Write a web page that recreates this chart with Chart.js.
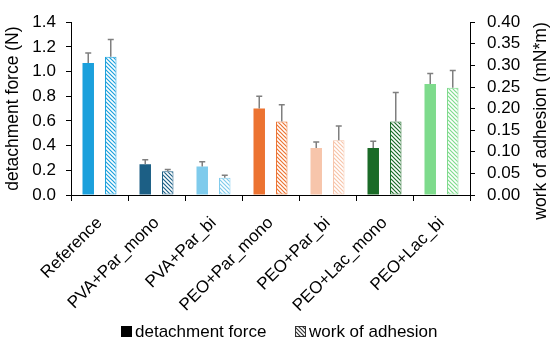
<!DOCTYPE html>
<html>
<head>
<meta charset="utf-8">
<script src="https://cdn.jsdelivr.net/npm/chart.js@4/dist/chart.umd.min.js"></script>
<style>
  body { margin: 0; background: #fff; }
  #wrap { width: 550px; height: 347px; }
</style>
</head>
<body>
<div id="wrap"><canvas id="c" width="550" height="347"></canvas></div>
<script>
const categories = ['Reference', 'PVA+Par_mono', 'PVA+Par_bi', 'PEO+Par_mono', 'PEO+Par_bi', 'PEO+Lac_mono', 'PEO+Lac_bi'];
const barColors = ['#1ba0dc', '#1c5f85', '#7fcbec', '#ec7331', '#f7c5ab', '#1a6b27', '#7edb8c'];

const forceValues = [1.07, 0.25, 0.23, 0.70, 0.38, 0.38, 0.90];
const forceErrors = [0.08, 0.035, 0.04, 0.10, 0.05, 0.055, 0.085];
const workValues = [0.32, 0.055, 0.04, 0.17, 0.127, 0.17, 0.248];
const workErrors = [0.04, 0.004, 0.006, 0.039, 0.033, 0.067, 0.04];

const forceTicks = [0, 0.2, 0.4, 0.6, 0.8, 1.0, 1.2, 1.4];
const workTicks = [0, 0.05, 0.10, 0.15, 0.20, 0.25, 0.30, 0.35, 0.40];

const FONT = '"Liberation Sans", Arial, sans-serif';
const ctx = document.getElementById('c').getContext('2d');

// diagonal hatch fill (top-left to bottom-right)
function hatch(color) {
	const t = document.createElement('canvas');
	t.width = 4; t.height = 4;
	const g = t.getContext('2d');
	g.fillStyle = '#fff';
	g.fillRect(0, 0, 4, 4);
	g.strokeStyle = color;
	g.lineWidth = 1.2;
	g.beginPath();
	g.moveTo(-1, -1); g.lineTo(5, 5);
	g.moveTo(-1, 3); g.lineTo(1, 5);
	g.moveTo(3, -1); g.lineTo(5, 1);
	g.stroke();
	return ctx.createPattern(t, 'repeat');
}

const errorBars = {
	id: 'errorBars',
	afterDatasetsDraw(chart) {
		const c = chart.ctx;
		c.save();
		c.strokeStyle = '#7f7f7f';
		c.lineWidth = 1.5;
		chart.data.datasets.forEach((ds, i) => {
			const meta = chart.getDatasetMeta(i);
			const scale = chart.scales[ds.yAxisID];
			meta.data.forEach((bar, j) => {
				const yTop = scale.getPixelForValue(ds.data[j] + ds.errors[j]);
				c.beginPath();
				c.moveTo(bar.x, bar.y);
				c.lineTo(bar.x, yTop);
				c.moveTo(bar.x - 3, yTop);
				c.lineTo(bar.x + 3, yTop);
				c.stroke();
			});
		});
		c.restore();
	}
};

const extras = {
	id: 'extras',
	afterDraw(chart) {
		const c = chart.ctx;
		c.save();
		// right axis title, reading bottom to top
		c.fillStyle = '#000';
		c.font = '17.5px ' + FONT;
		c.textAlign = 'center';
		c.textBaseline = 'middle';
		c.translate(541, 121);
		c.rotate(-Math.PI / 2);
		c.fillText('work of adhesion (mN*m)', 0, 0);
		c.restore();

		// legend
		c.save();
		c.font = '17px ' + FONT;
		c.textBaseline = 'middle';
		c.fillStyle = '#000';
		c.fillRect(121, 326, 11, 11);
		c.fillText('detachment force', 135, 332);
		c.fillStyle = hatch('#333');
		c.fillRect(295, 326, 11, 11);
		c.strokeStyle = '#333';
		c.lineWidth = 1;
		c.strokeRect(295.5, 326.5, 10, 10);
		c.fillStyle = '#000';
		c.fillText('work of adhesion', 309, 332);
		c.restore();
	}
};

new Chart(ctx, {
	type: 'bar',
	data: {
		labels: categories,
		datasets: [
			{
				label: 'detachment force',
				data: forceValues,
				errors: forceErrors,
				yAxisID: 'y',
				backgroundColor: barColors,
				borderWidth: 0,
				categoryPercentage: 0.79,
				barPercentage: 0.51,
			},
			{
				label: 'work of adhesion',
				data: workValues,
				errors: workErrors,
				yAxisID: 'y1',
				backgroundColor: barColors.map(hatch),
				borderColor: barColors,
				borderWidth: 1,
				borderSkipped: false,
				categoryPercentage: 0.79,
				barPercentage: 0.51,
			},
		],
	},
	options: {
		responsive: false,
		animation: false,
		layout: { padding: { top: 16, left: 0, right: 0, bottom: 0 } },
		plugins: {
			legend: { display: false },
			tooltip: { enabled: false },
		},
		scales: {
			x: {
				afterFit: s => { s.height = 152; },
				grid: { drawOnChartArea: false, color: '#000', tickLength: 6, offset: true },
				border: { color: '#000', width: 1 },
				ticks: {
					color: '#000',
					font: { family: FONT, size: 17 },
					minRotation: 45,
					maxRotation: 45,
					autoSkip: false,
					padding: 12,
				},
			},
			y: {
				position: 'left',
				min: 0,
				max: 1.4,
				afterFit: s => { s.width = 71; },
				afterBuildTicks: s => { s.ticks = forceTicks.map(v => ({ value: v })); },
				grid: { drawOnChartArea: false, color: '#000', tickLength: 5 },
				border: { color: '#000', width: 1 },
				ticks: {
					color: '#000',
					font: { family: FONT, size: 17 },
					padding: 10,
					autoSkip: false,
					callback: v => v.toFixed(1),
				},
				title: {
					display: true,
					text: 'detachment force (N)',
					color: '#000',
					font: { family: FONT, size: 17.5 },
					padding: 3,
				},
			},
			y1: {
				position: 'right',
				min: 0,
				max: 0.4,
				afterFit: s => { s.width = 80; },
				afterBuildTicks: s => { s.ticks = workTicks.map(v => ({ value: v })); },
				grid: { drawOnChartArea: false, color: '#000', tickLength: 5 },
				border: { color: '#000', width: 1 },
				ticks: {
					color: '#000',
					font: { family: FONT, size: 17 },
					padding: 12,
					autoSkip: false,
					callback: v => v.toFixed(2),
				},
			},
		},
	},
	plugins: [errorBars, extras],
});
</script>
</body>
</html>
